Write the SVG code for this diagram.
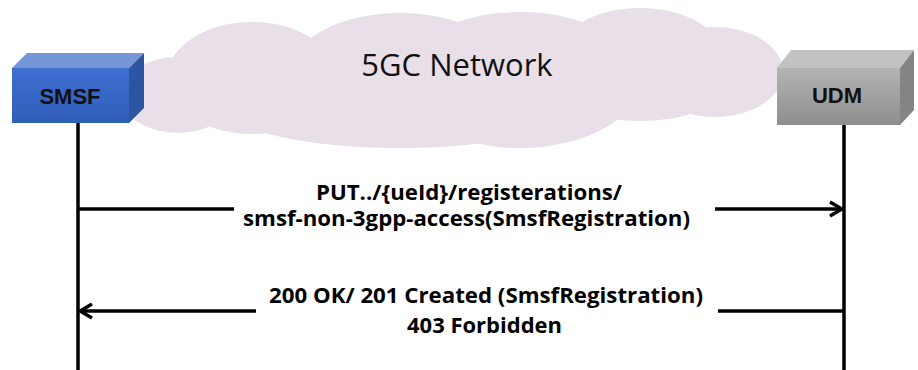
<svg xmlns="http://www.w3.org/2000/svg" width="918" height="370" viewBox="0 0 918 370">
<defs>
<style>
.lbl{font-family:"Open Sans","Liberation Sans",sans-serif;font-weight:bold;font-size:21px;fill:#000;text-anchor:middle}
.node{font-family:"Liberation Sans",Arial,sans-serif;font-weight:bold;font-size:22px;fill:#111;text-anchor:middle}
.cloud{fill:#e8dfe9}
.line{stroke:#000;stroke-width:3.5;fill:none}
</style>
<linearGradient id="gBlue" x1="0" y1="0" x2="0" y2="1">
<stop offset="0" stop-color="#3e70d2"/>
<stop offset="1" stop-color="#2f5db9"/>
</linearGradient>
<linearGradient id="gGrey" x1="0" y1="0" x2="0" y2="1">
<stop offset="0" stop-color="#b4b4b4"/>
<stop offset="1" stop-color="#8e8e8e"/>
</linearGradient>
<marker id="arr" viewBox="-14 -9 16 18" refX="0" refY="0" markerWidth="16" markerHeight="18" markerUnits="userSpaceOnUse" orient="auto">
<path d="M-12,-7 L0,0 L-12,7" fill="none" stroke="#000" stroke-width="3.5" stroke-linejoin="miter"/>
</marker>
</defs>
<rect width="918" height="370" fill="#fff"/>
<g id="cloud">
<ellipse class="cloud" cx="178" cy="95" rx="58" ry="38"/>
<ellipse class="cloud" cx="252" cy="78" rx="85" ry="56"/>
<ellipse class="cloud" cx="400" cy="76" rx="112" ry="63"/>
<ellipse class="cloud" cx="520" cy="80" rx="120" ry="68"/>
<ellipse class="cloud" cx="640" cy="60" rx="85" ry="52"/>
<ellipse class="cloud" cx="715" cy="72" rx="68" ry="45"/>
<ellipse class="cloud" cx="400" cy="110" rx="170" ry="38"/>
<ellipse class="cloud" cx="640" cy="95" rx="72" ry="26"/>
<text x="457" y="76" style="font-family:'Open Sans','Liberation Sans',sans-serif;font-size:31px;fill:#111;text-anchor:middle">5GC Network</text>
</g>
<g id="connectors">
<line class="line" x1="78" y1="123" x2="78" y2="370"/>
<line class="line" x1="844" y1="125" x2="844" y2="370"/>
<line class="line" x1="78" y1="209" x2="234" y2="209"/>
<line class="line" x1="715" y1="209" x2="842" y2="209" marker-end="url(#arr)"/>
<line class="line" x1="256" y1="311" x2="80" y2="311" marker-end="url(#arr)"/>
<line class="line" x1="718" y1="311" x2="844" y2="311"/>
<text class="lbl" x="469" y="200" textLength="306" lengthAdjust="spacingAndGlyphs">PUT../{ueId}/registerations/</text>
<text class="lbl" x="466.5" y="226" textLength="447" lengthAdjust="spacingAndGlyphs">smsf-non-3gpp-access(SmsfRegistration)</text>
<text class="lbl" x="486" y="303" textLength="434" lengthAdjust="spacingAndGlyphs">200 OK/ 201 Created (SmsfRegistration)</text>
<text class="lbl" x="484.5" y="333" textLength="155" lengthAdjust="spacingAndGlyphs">403 Forbidden</text>
</g>
<g id="SMSF">
<polygon points="12,68 27,53 144,53 129,68" fill="#7597d8"/>
<polygon points="129,68 144,53 144,108 129,123" fill="#2d56a2"/>
<rect x="12" y="68" width="117" height="55" fill="url(#gBlue)"/>
<text class="node" x="70" y="104">SMSF</text>
</g>
<g id="UDM">
<polygon points="777,68 791,50 914,50 900,68" fill="#c2c2c2"/>
<polygon points="900,68 914,50 914,110 900,125" fill="#848484"/>
<rect x="777" y="68" width="123" height="57" fill="url(#gGrey)"/>
<text class="node" x="837" y="103">UDM</text>
</g>
</svg>
